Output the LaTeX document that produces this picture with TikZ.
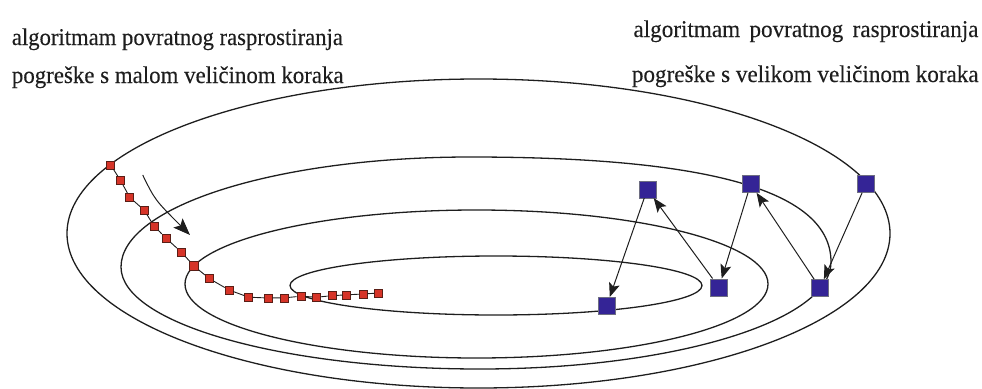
\documentclass[tikz,border=0pt]{standalone}
\usepackage{fontspec}
\setmainfont{Liberation Serif}
\newfontfamily\lblfont{Liberation Serif}[FakeBold=0.25]
\usepackage{graphicx}
\usetikzlibrary{arrows.meta}
\definecolor{redsq}{RGB}{214,52,40}
\definecolor{redbd}{RGB}{90,30,22}
\definecolor{bluesq}{RGB}{52,36,150}
\definecolor{bluebd}{RGB}{110,110,130}
\definecolor{inkc}{RGB}{30,30,30}
\tikzset{
  contour/.style={draw=inkc, line width=1.3pt},
  rsq/.style={draw=redbd, line width=0.6pt, fill=redsq, minimum size=8pt, inner sep=0pt, rectangle},
  bsq/.style={draw=bluebd, line width=0.6pt, fill=bluesq, minimum size=17pt, inner sep=0pt, rectangle},
  chainline/.style={draw=inkc, line width=0.9pt},
  barrow/.style={draw=inkc, line width=1pt, -{Stealth[length=14pt,width=11pt,inset=3pt]}},
  bigarrow/.style={draw=inkc, line width=1pt, -{Stealth[length=17pt,width=13pt,inset=3.5pt]}},
  lbl/.style={anchor=base west, inner sep=0pt, text=inkc, font=\lblfont\fontsize{24}{27}\selectfont}
}
\begin{document}
\begin{tikzpicture}[x=1pt,y=-1pt]
\useasboundingbox (0,0) rectangle (982,388);
% contours
\draw[contour] (478.5,233.5) ellipse [x radius=411.5, y radius=154.5];
\draw[contour] (121,267) .. controls (121,206.2) and (277.2,157) .. (470,157)
  .. controls (711.9,157) and (831,191.6) .. (831,262)
  .. controls (831,321.1) and (673.8,369) .. (480,369)
  .. controls (281.8,369) and (121,323.3) .. cycle;
\draw[contour] (476.5,284) ellipse [x radius=291.5, y radius=74];
\draw[contour] (496,285.5) ellipse [x radius=206, y radius=29.5];
% labels
\node[lbl] (t1) at (11.7,45) {\resizebox{331pt}{\height}{algoritmam povratnog rasprostiranja}};
\node[lbl] (t2) at (11.7,83) {\resizebox{331.7pt}{\height}{pogreške s malom veličinom koraka}};
\node[lbl] (t3) at (633.3,37) {\resizebox{345pt}{\height}{\makebox[358pt][s]{algoritmam povratnog rasprostiranja}}};
\node[lbl] (t4) at (631.7,82) {\resizebox{346.7pt}{\height}{pogreške s velikom veličinom koraka}};
% red squares (small step)
\node[rsq] (r1) at (110.7,165) {};
\node[rsq] (r2) at (120.7,180.7) {};
\node[rsq] (r3) at (129.7,197.3) {};
\node[rsq] (r4) at (144.3,210.3) {};
\node[rsq] (r5) at (154,226) {};
\node[rsq] (r6) at (166,238.2) {};
\node[rsq] (r7) at (181.2,252) {};
\node[rsq, minimum size=8.5pt] (r8) at (194,266) {};
\node[rsq] (r9) at (209.2,278.5) {};
\node[rsq] (r10) at (229,290) {};
\node[rsq] (r11) at (248.7,297.2) {};
\node[rsq] (r12) at (268.3,298) {};
\node[rsq] (r13) at (284.7,297.8) {};
\node[rsq] (r14) at (300.8,296.2) {};
\node[rsq] (r15) at (316.7,297.2) {};
\node[rsq] (r16) at (332,295.7) {};
\node[rsq] (r17) at (346.7,294.8) {};
\node[rsq] (r18) at (363.3,294) {};
\node[rsq] (r19) at (378.3,293) {};
\draw[chainline] (r1) -- (r2) -- (r3) -- (r4) -- (r5) -- (r6) -- (r7) -- (r8) -- (r9) -- (r10)
  -- (r11) -- (r12) -- (r13) -- (r14) -- (r15) -- (r16) -- (r17) -- (r18) -- (r19);
% direction arrow
\coordinate (as) at (142.7,175);
\coordinate (ae) at (190,235);
\draw[bigarrow] (as) .. controls (155,200) .. (ae);
% blue squares (large step)
\node[bsq] (b1) at (647.3,189.3) {};
\node[bsq] (b2) at (606.7,305.8) {};
\node[bsq] (b3) at (719,287.3) {};
\node[bsq] (b4) at (750.7,184) {};
\node[bsq] (b5) at (820,288) {};
\node[bsq] (b6) at (866,184) {};
\draw[barrow] (b1) -- (b2);
\draw[barrow] (b3) -- (b1);
\draw[barrow] (b4) -- (b3);
\draw[barrow] (b5) -- (b4);
\draw[barrow] (b6) -- (b5);
\end{tikzpicture}
\end{document}
